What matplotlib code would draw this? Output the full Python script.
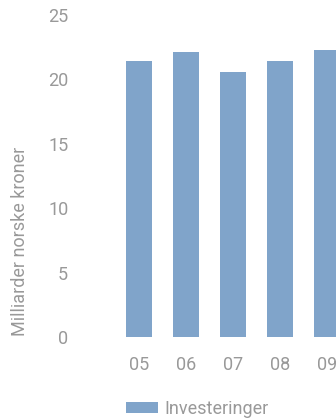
import matplotlib.pyplot as plt
from matplotlib.patches import Patch

years = ["05", "06", "07", "08", "09"]
investeringer = [21.4, 22.1, 20.6, 21.4, 22.3]

bar_color = "#80a4ca"
text_color = "#999999"

plt.rcParams["font.family"] = "Roboto"

W, H = 336, 418
fig = plt.figure(figsize=(W / 100, H / 100), dpi=100)
ax = fig.add_axes([115.5 / W, 81 / H, 235 / W, 322 / H])

x = range(len(years))
ax.bar(x, investeringer, width=0.553, color=bar_color)

ax.set_xlim(-0.5, len(years) - 0.5)
ax.set_ylim(0, 25)
ax.set_yticks([0, 5, 10, 15, 20, 25])
ax.set_xticks(list(x))
ax.set_xticklabels(years)

for s in ax.spines.values():
    s.set_visible(False)
ax.tick_params(axis="both", length=0, labelsize=13, labelcolor=text_color)
ax.tick_params(axis="y", pad=34)
ax.tick_params(axis="x", pad=14)

fig.text(20 / W, 1 - 241 / H, "Milliarder norske kroner", rotation=90,
         ha="center", va="center", fontsize=13, color=text_color)

handle = Patch(facecolor=bar_color, edgecolor="none")
leg = fig.legend([handle], ["Investeringer"], loc="center left",
                 bbox_to_anchor=(126 / W, 1 - 409 / H), frameon=False,
                 fontsize=13, handlelength=1.78, handleheight=0.55,
                 handletextpad=0.33, borderaxespad=0, borderpad=0)
for t in leg.get_texts():
    t.set_color(text_color)

fig.savefig("out.png", dpi=100)
